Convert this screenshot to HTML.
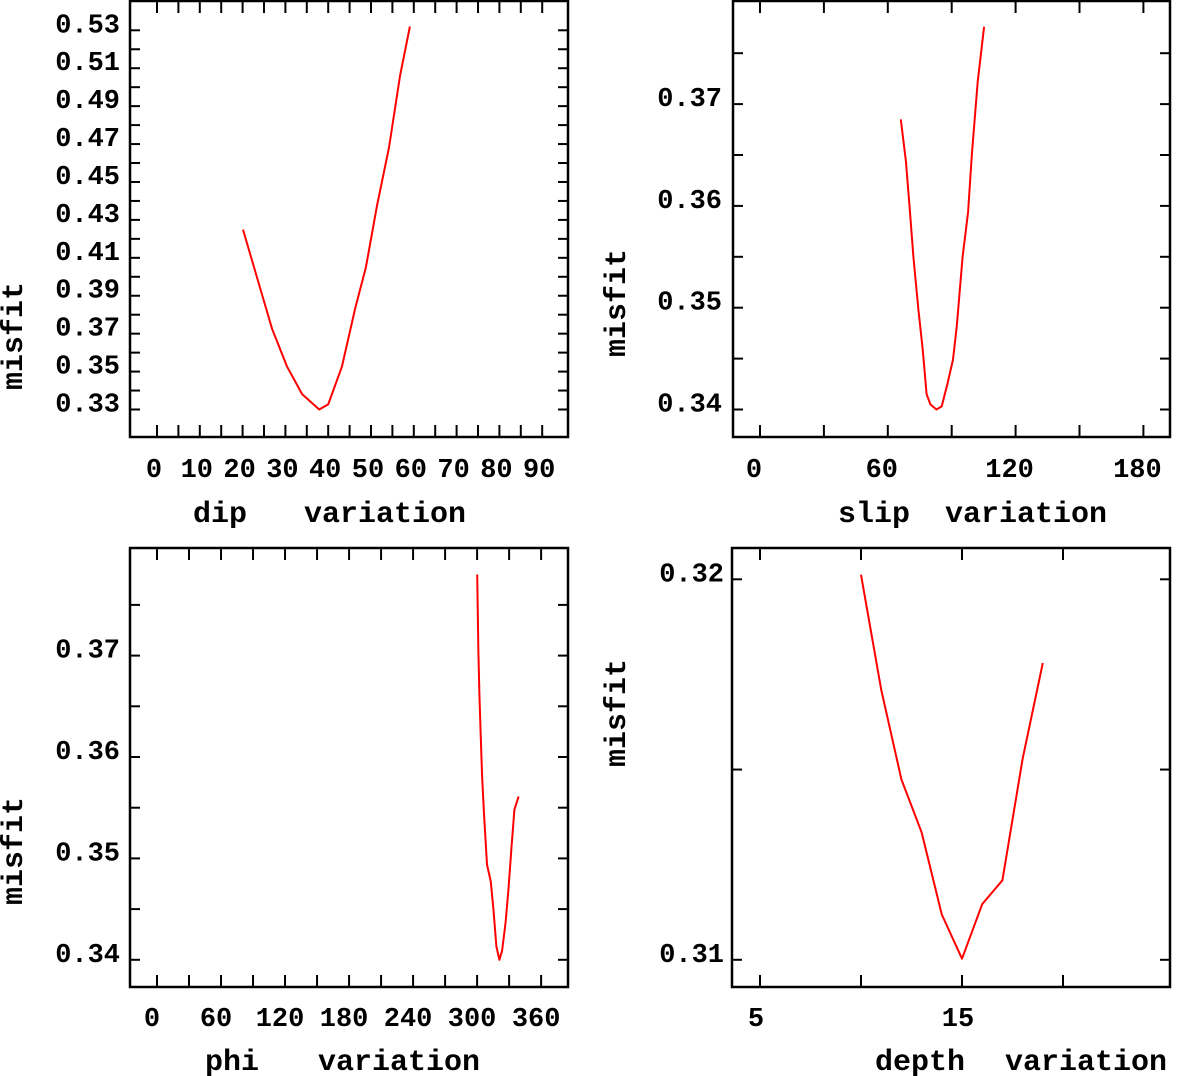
<!DOCTYPE html>
<html><head><meta charset="utf-8"><style>
html,body{margin:0;padding:0;background:#fff;}
svg{display:block;}
text{font-family:"Liberation Mono",monospace;font-weight:bold;fill:#000;}
</style></head><body>
<svg id="chart" width="1183" height="1076" viewBox="0 0 1183 1076" xmlns="http://www.w3.org/2000/svg"></svg>
<script>
// ---- data ----
const dipValues = [20.1,24.1,26.9,30.4,33.9,37.9,40,43.2,46.3,48.8,51.4,54.2,56.8,59.1];
const dipMisfit = [0.4249,0.3941,0.3725,0.3526,0.3381,0.33,0.3327,0.3526,0.3833,0.405,0.4375,0.4682,0.5062,0.532];
const dipTickLabels = ["0","10","20","30","40","50","60","70","80","90"];
const dipYLabels = ["0.33","0.35","0.37","0.39","0.41","0.43","0.45","0.47","0.49","0.51","0.53"];

const slipValues = [66.1,68.5,70.2,72,74.3,76.4,78.2,80,82.8,85.3,88,90.6,92.4,95.1,97.7,99.5,102.2,105.2];
const slipMisfit = [0.3685,0.3644,0.36,0.355,0.3499,0.3459,0.3415,0.3405,0.34,0.3403,0.3425,0.3449,0.3482,0.355,0.3594,0.3651,0.3722,0.3776];
const slipTickLabels = ["0","60","120","180"];
const slipYLabels = ["0.34","0.35","0.36","0.37"];

const phiValues = [300.1,301.2,302.2,303.3,304.7,306.5,309.3,312.8,315.3,318.1,320.9,323.4,326.6,329.4,332.2,335,338.9];
const phiMisfit = [0.378,0.3703,0.3662,0.3625,0.3581,0.3544,0.3494,0.3477,0.345,0.3413,0.34,0.3409,0.3436,0.347,0.3511,0.3548,0.3561];
const phiTickLabels = ["0","60","120","180","240","300","360"];
const phiYLabels = ["0.34","0.35","0.36","0.37"];

const depthValues = [10,11,12,13,14,15,16,17,18,19];
const depthMisfit = [0.32012,0.3171,0.31474,0.31335,0.31119,0.31003,0.31146,0.31209,0.31528,0.3178];
const depthTickLabels = ["5","15"];
const depthYLabels = ["0.31","0.32"];

const svg = document.getElementById('chart');
const NS = 'http://www.w3.org/2000/svg';
function mk(tag, attrs, parent){
  const e = document.createElementNS(NS, tag);
  for (const k in attrs) e.setAttribute(k, attrs[k]);
  (parent||svg).appendChild(e);
  return e;
}

function panel(p){
  const g = mk('g', {});
  
  
  const sx = v => p.x0 + (v - p.xmin) * p.xs;
  const sy = v => p.y0 - (v - p.ymin) * p.ys;
  const fr = mk('rect', {x:p.L, y:p.T, width:p.R-p.L, height:p.B-p.T, fill:'none', stroke:'#000', 'stroke-width':2.5}, g);
  
  
  // x ticks
  for (let v = p.xmin; v <= p.xmax + 1e-9; v += p.xstep){
    const x = sx(v);
    const t1 = mk('line', {x1:x, x2:x, y1:p.B, y2:p.B-12, stroke:'#000', 'stroke-width':2}, g);
    
    
    const t2 = mk('line', {x1:x, x2:x, y1:p.T, y2:p.T+12, stroke:'#000', 'stroke-width':2}, g);
    
    
  }
  // y ticks
  for (let v = p.ymin; v <= p.ymax + 1e-9; v += p.ystep){
    const y = sy(v);
    const t1 = mk('line', {x1:p.L, x2:p.L+10, y1:y, y2:y, stroke:'#000', 'stroke-width':2}, g);
    
    
    const t2 = mk('line', {x1:p.R, x2:p.R-10, y1:y, y2:y, stroke:'#000', 'stroke-width':2}, g);
    
    
  }
  // x labels
  p.xLabels.forEach((lab, i) => {
    const v = p.xLabelStart + i * p.xLabelStep;
    const t = mk('text', {x:sx(v) + p.xLabOff, y:p.xLabY, 'font-size':27, 'text-anchor':'middle'}, g);
    t.textContent = lab;
    
    
  });
  // y labels
  p.yLabels.forEach((lab, i) => {
    const v = p.yLabelStart + i * p.yLabelStep;
    const t = mk('text', {x:p.yLabX, y:sy(v) + 2, 'font-size':27, 'text-anchor':'end'}, g);
    t.textContent = lab;
    
    
  });
  // x title
  const xt1 = mk('text', {x:p.xt1x, y:p.xtY, 'font-size':30}, g);
  xt1.textContent = p.xt1;
  
  
  const xt2 = mk('text', {x:p.xt2x, y:p.xtY, 'font-size':30}, g);
  xt2.textContent = 'variation';
  
  
  // y title
  const yt = mk('text', {x:0, y:0, 'font-size':30, 'text-anchor':'middle', transform:'translate(' + p.ytX + ',' + p.ytY + ') rotate(-90)'}, g);
  yt.textContent = 'misfit';
  
  
  // curve
  const pts = p.xs_data.map((v, i) => sx(v).toFixed(1) + ',' + sy(p.ys_data[i]).toFixed(1)).join(' ');
  const line = mk('polyline', {points:pts, fill:'none', stroke:'#ff0000', 'stroke-width':2, 'stroke-linejoin':'round'}, g);
  
  
}

panel({name:'dip-panel', L:130, R:568, T:1, B:437,
  xmin:0, xmax:90, xstep:5, x0:157, xs:4.28,
  ymin:0.33, ymax:0.53, ystep:0.01, y0:409.5, ys:1896,
  xLabels:dipTickLabels, xLabelStart:0, xLabelStep:10, xLabOff:-3, xLabY:477,
  yLabels:dipYLabels, yLabelStart:0.33, yLabelStep:0.02, yLabX:120,
  xt1:'dip', xt1x:193, xt2x:304, xtY:522, ytX:22, ytY:336,
  xs_data:dipValues, ys_data:dipMisfit});

panel({name:'slip-panel', L:733, R:1170, T:1, B:437,
  xmin:0, xmax:180, xstep:30, x0:760, xs:2.13,
  ymin:0.34, ymax:0.375, ystep:0.005, y0:409.5, ys:10180,
  xLabels:slipTickLabels, xLabelStart:0, xLabelStep:60, xLabOff:-6, xLabY:477,
  yLabels:slipYLabels, yLabelStart:0.34, yLabelStep:0.01, yLabX:722,
  xt1:'slip', xt1x:838, xt2x:945, xtY:522, ytX:625, ytY:303,
  xs_data:slipValues, ys_data:slipMisfit});

panel({name:'phi-panel', L:130, R:568, T:548, B:987,
  xmin:0, xmax:360, xstep:30, x0:157, xs:1.067,
  ymin:0.34, ymax:0.375, ystep:0.005, y0:959.8, ys:10140,
  xLabels:phiTickLabels, xLabelStart:0, xLabelStep:60, xLabOff:-5, xLabY:1026,
  yLabels:phiYLabels, yLabelStart:0.34, yLabelStep:0.01, yLabX:120,
  xt1:'phi', xt1x:205, xt2x:318, xtY:1070, ytX:22, ytY:851,
  xs_data:phiValues, ys_data:phiMisfit});

panel({name:'depth-panel', L:732, R:1170, T:548, B:987,
  xmin:5, xmax:20, xstep:5, x0:760, xs:20.2,
  ymin:0.31, ymax:0.32, ystep:0.005, y0:959.8, ys:38050,
  xLabels:depthTickLabels, xLabelStart:5, xLabelStep:10, xLabOff:-4, xLabY:1026,
  yLabels:depthYLabels, yLabelStart:0.31, yLabelStep:0.01, yLabX:724,
  xt1:'depth', xt1x:875, xt2x:1005, xtY:1070, ytX:625, ytY:713,
  xs_data:depthValues, ys_data:depthMisfit});
</script>
</body></html>
